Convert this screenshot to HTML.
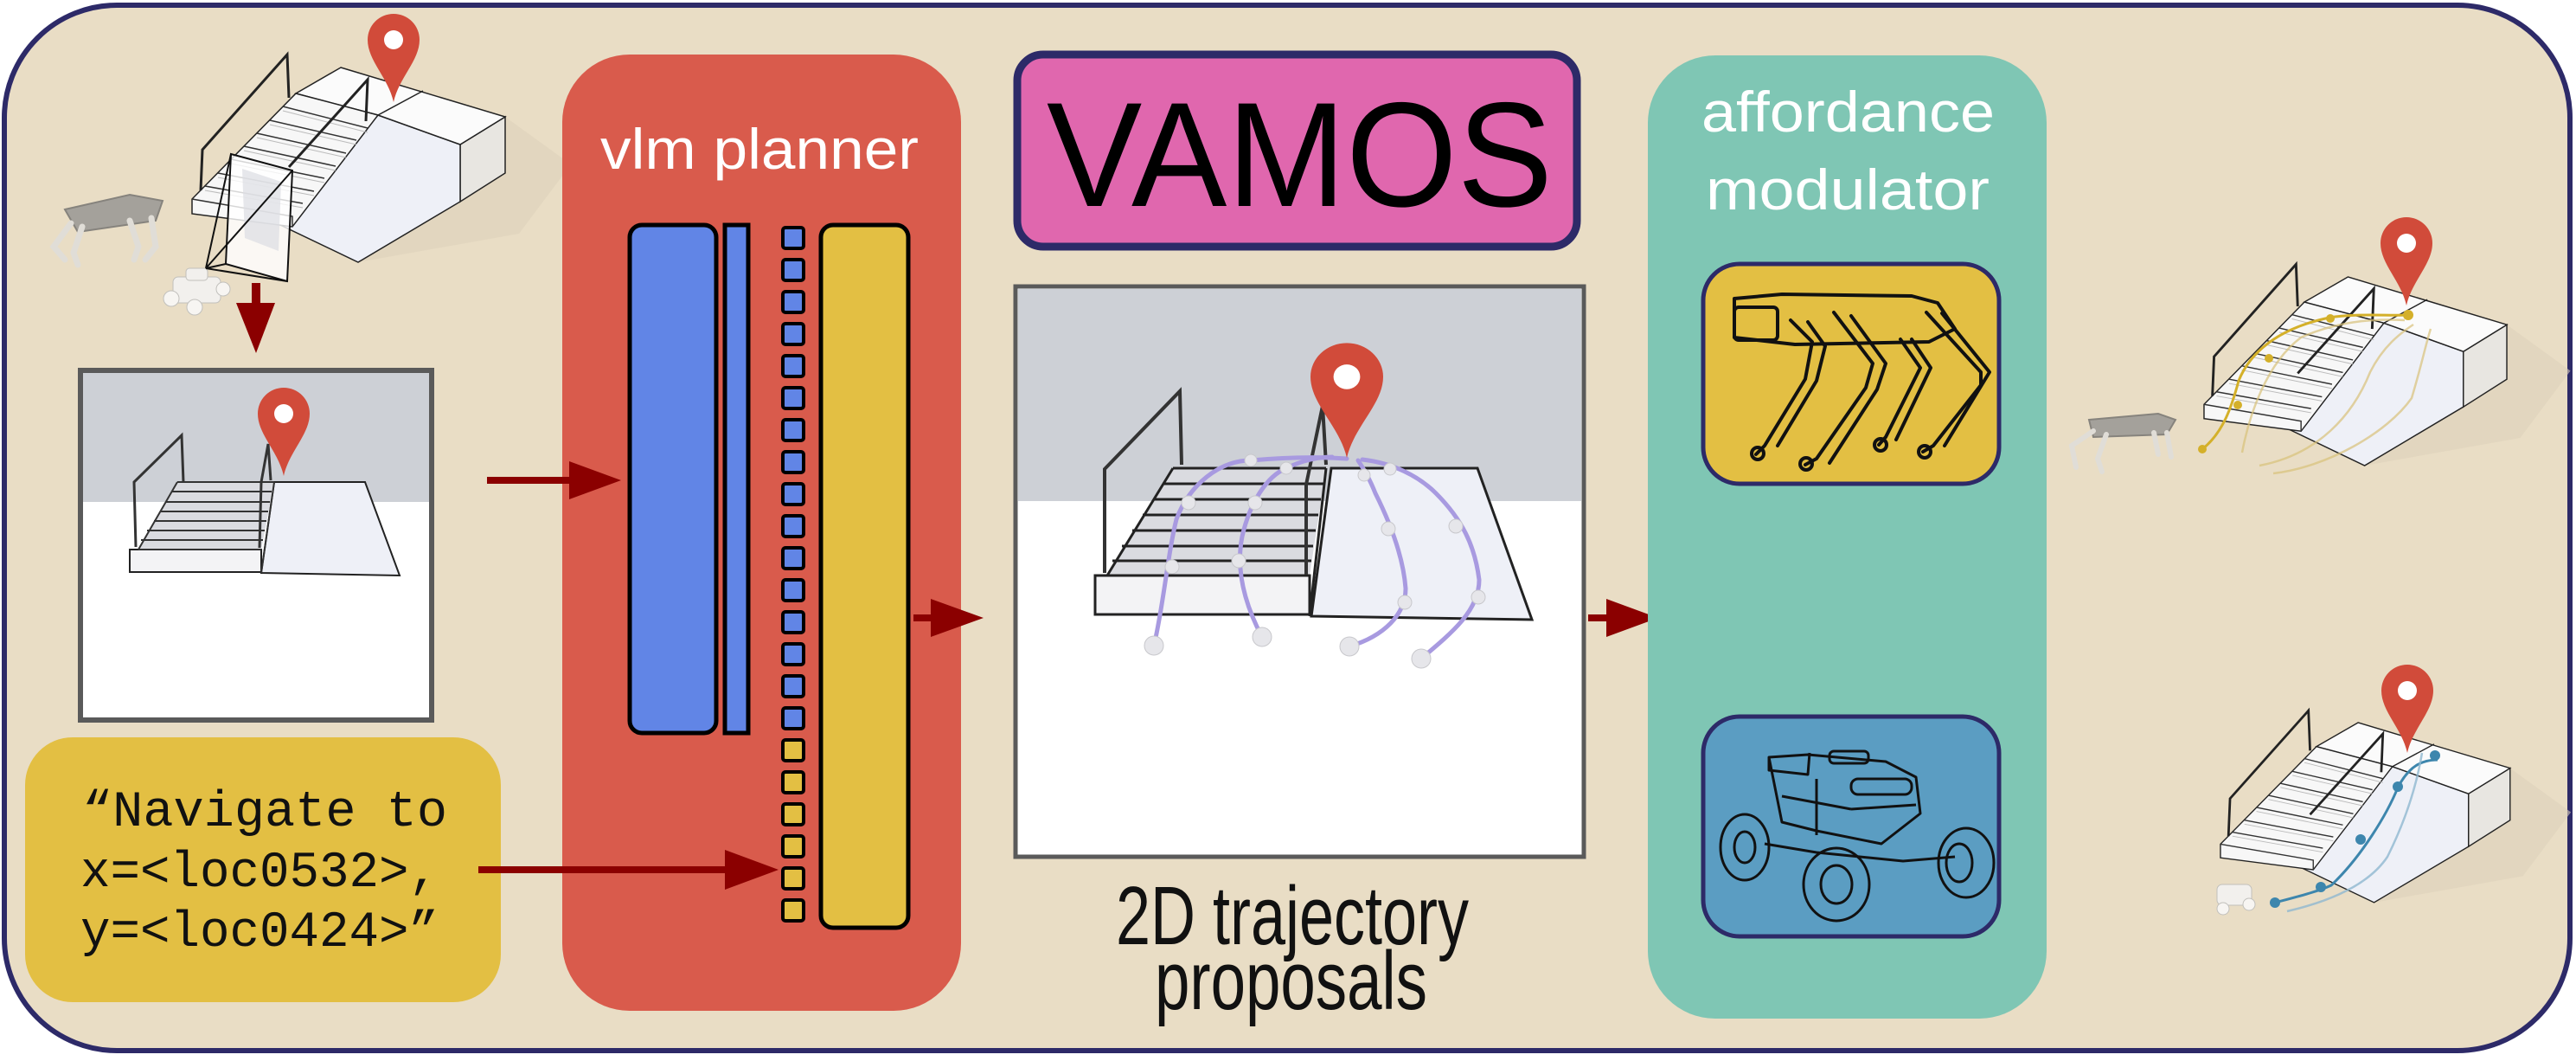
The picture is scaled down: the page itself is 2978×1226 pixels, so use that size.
<!DOCTYPE html>
<html><head><meta charset="utf-8"><style>
html,body{margin:0;padding:0;background:#fff;}
svg{display:block;}
</style></head><body>
<svg width="2978" height="1226" viewBox="0 0 2978 1226" xmlns="http://www.w3.org/2000/svg">
<defs>
  <g id="pin">
    <path d="M0,0 C-6,-28 -30,-48 -30,-72 A30,30 0 1,1 30,-72 C30,-48 6,-28 0,0Z" fill="#d14b3a"/>
    <circle cx="0" cy="-72" r="11" fill="#ffffff"/>
  </g>
  <g id="stairs">
    <polygon points="532,167 584,135 660,190 600,270 414,303" fill="#ddd2bb" opacity="0.6"/>
    <polygon points="532,167 584,135 584,200 532,233" fill="#e8e6e1" stroke="#222" stroke-width="1.5"/>
    <polygon points="437,133 532,167 532,233 414,303 320,258 338,250" fill="#eef0f7" stroke="#222" stroke-width="1.5"/>
    <polygon points="394,78 584,135 532,167 437,133 342,108" fill="#fbfbfb" stroke="#222" stroke-width="1.5"/>
    <line x1="489" y1="105" x2="437" y2="133" stroke="#222" stroke-width="1.5"/>
    <polygon points="342,108 437,133 338,262 222,247 222,230" fill="#f7f7f7" stroke="#222" stroke-width="1.5"/>
    <path d="M327,123 L425,148 M312,139 L412,162 M297,154 L400,177 M282,169 L388,192 M267,184 L375,206 M252,200 L363,221 M237,215 L350,235 M222,230 L338,250 L338,262" stroke="#333" stroke-width="1.5" fill="none"/>
    <path d="M327,128 L425,153 M312,144 L412,167 M297,159 L400,182 M282,174 L388,197 M267,189 L375,211 M252,205 L363,226 M237,220 L350,240" stroke="#bbb" stroke-width="1" fill="none"/>
    <polyline points="232,220 234,173 332,63 334,113" fill="none" stroke="#222" stroke-width="3"/>
    <polyline points="334,193 425,92 423,140" fill="none" stroke="#222" stroke-width="3"/>
  </g>
  <g id="frontstairs">
    <polygon points="317,557 422,557 462,665 302,662" fill="#eef0f7" stroke="#222" stroke-width="2"/>
    <rect x="150" y="635" width="152" height="26" fill="#f3f3f5" stroke="#222" stroke-width="2"/>
    <polygon points="205,557 317,557 302,635 160,635" fill="#dadbe0"/>
    <path d="M205,557 L317,557 M199,568 L314,568 M192,580 L312,580 M185,591 L310,591 M178,602 L308,602 M170,613 L306,613 M163,624 L304,624 M160,635 L302,635" stroke="#333" stroke-width="2" fill="none"/>
    <path d="M205,557 L160,635 M317,557 L302,662" stroke="#333" stroke-width="2"/>
    <polyline points="157,632 155,557 210,503 212,557" fill="none" stroke="#333" stroke-width="3"/>
    <polyline points="300,633 302,557 310,513 313,555" fill="none" stroke="#333" stroke-width="3"/>
  </g>
</defs>

<rect x="5" y="6" width="2966" height="1208" rx="130" ry="130" fill="#e9ddc5" stroke="#2d2a68" stroke-width="6"/>

<use href="#stairs"/>
<g opacity="0.75">
  <polygon points="75,242 150,225 188,232 180,255 90,268" fill="#8d8d8d" stroke="#666" stroke-width="2"/>
  <path d="M82,258 L62,285 L75,300 M95,262 L85,292 L90,306 M150,255 L160,285 L155,300 M175,252 L180,285 L168,300" stroke="#ddd" stroke-width="7" fill="none" stroke-linecap="round"/>
</g>
<g opacity="0.85">
  <rect x="200" y="320" width="55" height="30" rx="6" fill="#f4f4f4" stroke="#bbb"/>
  <rect x="215" y="310" width="25" height="14" rx="4" fill="#f4f4f4" stroke="#bbb"/>
  <circle cx="198" cy="345" r="9" fill="#fafafa" stroke="#bbb"/>
  <circle cx="225" cy="355" r="9" fill="#fafafa" stroke="#bbb"/>
  <circle cx="258" cy="334" r="8" fill="#fafafa" stroke="#bbb"/>
</g>
<polygon points="267,178 338,197 332,325 261,305" fill="#ffffff" fill-opacity="0.8" stroke="#111" stroke-width="2"/>
<polygon points="280,195 325,210 322,290 283,275" fill="#dcdde2" opacity="0.7"/>
<path d="M238,310 L267,178 M238,310 L338,197 M238,310 L332,325 M238,310 L261,305" stroke="#111" stroke-width="2" fill="none"/>
<use href="#pin" transform="translate(455,118)"/>
<rect x="291" y="327" width="10" height="25" fill="#8b0000"/>
<polygon points="273,350 318,350 296,408" fill="#8b0000"/>

<rect x="93" y="428" width="406" height="404" fill="#ffffff" stroke="#5a5a5a" stroke-width="6"/>
<rect x="96" y="431" width="400" height="149" fill="#cdd0d6"/>
<use href="#frontstairs"/>
<use href="#pin" transform="translate(328,550) scale(1)"/>

<rect x="29" y="852" width="550" height="306" rx="55" ry="55" fill="#e3bf43"/>
<g font-family="'Liberation Mono', monospace" font-size="58" fill="#111">
  <text x="95" y="954" textLength="422" lengthAdjust="spacingAndGlyphs">“Navigate to</text>
  <text x="93" y="1024" textLength="414" lengthAdjust="spacingAndGlyphs">x=&lt;loc0532&gt;,</text>
  <text x="93" y="1093" textLength="414" lengthAdjust="spacingAndGlyphs">y=&lt;loc0424&gt;”</text>
</g>

<rect x="650" y="63" width="461" height="1105" rx="78" ry="78" fill="#d95b4c"/>
<text x="694" y="195" textLength="368" lengthAdjust="spacingAndGlyphs" font-family="'Liberation Sans', sans-serif" font-size="66" fill="#fff">vlm planner</text>
<rect x="728" y="260" width="100" height="587" rx="14" fill="#6185e6" stroke="#000" stroke-width="5"/>
<rect x="838" y="260" width="27" height="587" fill="#6185e6" stroke="#000" stroke-width="5"/>
<rect x="949" y="260" width="101" height="812" rx="14" fill="#e3bf43" stroke="#000" stroke-width="5"/>
<g stroke="#000" stroke-width="4">
  <g fill="#6185e6">
    <rect x="905" y="263" width="24" height="24" rx="3"/>
    <rect x="905" y="300" width="24" height="24" rx="3"/>
    <rect x="905" y="337" width="24" height="24" rx="3"/>
    <rect x="905" y="374" width="24" height="24" rx="3"/>
    <rect x="905" y="411" width="24" height="24" rx="3"/>
    <rect x="905" y="448" width="24" height="24" rx="3"/>
    <rect x="905" y="485" width="24" height="24" rx="3"/>
    <rect x="905" y="522" width="24" height="24" rx="3"/>
    <rect x="905" y="559" width="24" height="24" rx="3"/>
    <rect x="905" y="596" width="24" height="24" rx="3"/>
    <rect x="905" y="633" width="24" height="24" rx="3"/>
    <rect x="905" y="670" width="24" height="24" rx="3"/>
    <rect x="905" y="707" width="24" height="24" rx="3"/>
    <rect x="905" y="744" width="24" height="24" rx="3"/>
    <rect x="905" y="781" width="24" height="24" rx="3"/>
    <rect x="905" y="818" width="24" height="24" rx="3"/>
  </g>
  <g fill="#e3bf43">
    <rect x="905" y="855" width="24" height="24" rx="3"/>
    <rect x="905" y="892" width="24" height="24" rx="3"/>
    <rect x="905" y="929" width="24" height="24" rx="3"/>
    <rect x="905" y="966" width="24" height="24" rx="3"/>
    <rect x="905" y="1003" width="24" height="24" rx="3"/>
    <rect x="905" y="1040" width="24" height="24" rx="3"/>
  </g>
</g>

<rect x="563" y="551" width="105" height="8" fill="#8b0000"/>
<polygon points="658,533 718,555 658,577" fill="#8b0000"/>
<rect x="553" y="1001" width="295" height="8" fill="#8b0000"/>
<polygon points="838,982 900,1005 838,1028" fill="#8b0000"/>
<rect x="1056" y="710" width="30" height="8" fill="#8b0000"/>
<polygon points="1076,692 1137,714 1076,736" fill="#8b0000"/>
<rect x="1836" y="710" width="30" height="8" fill="#8b0000"/>
<polygon points="1857,692 1917,714 1857,736" fill="#8b0000"/>

<rect x="1176" y="63" width="647" height="222" rx="30" ry="30" fill="#e067ae" stroke="#2d2a68" stroke-width="9"/>
<text x="1210" y="238" textLength="585" lengthAdjust="spacingAndGlyphs" font-family="'Liberation Sans', sans-serif" font-size="172" fill="#000">VAMOS</text>

<rect x="1174" y="331" width="657" height="659" fill="#ffffff" stroke="#5a5a5a" stroke-width="5"/>
<rect x="1177" y="334" width="651" height="245" fill="#cdd0d6"/>
<polygon points="1539,541 1708,541 1771,716 1516,712" fill="#eef0f7" stroke="#222" stroke-width="3"/>
<rect x="1266" y="665" width="248" height="45" fill="#f3f3f5" stroke="#222" stroke-width="3"/>
<polygon points="1356,541 1533,541 1514,665 1280,665" fill="#dadbe0"/>
<path d="M1356,541 L1533,541 M1344,559 L1530,559 M1333,577 L1527,577 M1321,595 L1524,595 M1309,613 L1521,613 M1297,631 L1518,631 M1286,648 L1516,648 M1280,665 L1514,665" stroke="#222" stroke-width="3" fill="none"/>
<path d="M1356,541 L1280,665 M1533,541 L1514,712" stroke="#222" stroke-width="3"/>
<polyline points="1277,662 1277,542 1364,452 1366,537" fill="none" stroke="#333" stroke-width="4"/>
<polyline points="1510,664 1510,560 1529,469 1533,537" fill="none" stroke="#333" stroke-width="4"/>
<g fill="none" stroke="#a89ae0" stroke-width="5" stroke-linecap="round">
  <path d="M1334,746 C1345,700 1350,640 1360,600 C1375,560 1410,532 1446,532 C1490,528 1530,528 1557,530"/>
  <path d="M1459,736 C1440,700 1428,660 1436,620 C1445,580 1465,550 1487,541 C1505,532 1525,528 1540,528"/>
  <path d="M1560,747 C1600,735 1625,710 1625,680 C1622,640 1605,600 1590,570 C1582,550 1575,540 1570,532"/>
  <path d="M1643,761 C1680,730 1710,705 1710,670 C1705,630 1690,600 1660,570 C1640,550 1610,535 1575,531"/>
</g>
<g fill="#e6e6ea" stroke="#c8c8cc" stroke-width="1">
  <circle cx="1334" cy="746" r="11"/><circle cx="1459" cy="736" r="11"/><circle cx="1560" cy="747" r="11"/><circle cx="1643" cy="761" r="11"/>
  <circle cx="1355" cy="655" r="8"/><circle cx="1374" cy="581" r="8"/><circle cx="1446" cy="532" r="7"/>
  <circle cx="1432" cy="648" r="8"/><circle cx="1451" cy="581" r="8"/><circle cx="1487" cy="541" r="7"/>
  <circle cx="1624" cy="696" r="8"/><circle cx="1605" cy="611" r="8"/><circle cx="1577" cy="549" r="7"/>
  <circle cx="1709" cy="690" r="8"/><circle cx="1683" cy="608" r="8"/><circle cx="1607" cy="542" r="7"/>
</g>
<use href="#pin" transform="translate(1557,529) scale(1.4,1.3)"/>
<text x="1290" y="1091" textLength="408" lengthAdjust="spacingAndGlyphs" font-family="'Liberation Sans', sans-serif" font-size="96" fill="#111">2D trajectory</text>
<text x="1335" y="1166" textLength="315" lengthAdjust="spacingAndGlyphs" font-family="'Liberation Sans', sans-serif" font-size="96" fill="#111">proposals</text>

<rect x="1905" y="64" width="461" height="1113" rx="78" ry="78" fill="#7fc6b4"/>
<text x="1967" y="152" textLength="339" lengthAdjust="spacingAndGlyphs" font-family="'Liberation Sans', sans-serif" font-size="66" fill="#fff">affordance</text>
<text x="1972" y="242" textLength="328" lengthAdjust="spacingAndGlyphs" font-family="'Liberation Sans', sans-serif" font-size="66" fill="#fff">modulator</text>

<rect x="1969" y="305" width="342" height="254" rx="42" ry="42" fill="#e3bf43" stroke="#2d2a68" stroke-width="5"/>
<g fill="none" stroke="#111" stroke-width="4" stroke-linejoin="round" stroke-linecap="round">
  <path d="M2005,345 L2060,340 L2210,342 L2240,350 L2260,380 L2230,395 L2075,398 L2005,390 Z"/>
  <rect x="2005" y="355" width="50" height="38" rx="5"/>
  <path d="M2070,370 L2095,395 L2087,438 L2040,515 L2030,525"/>
  <path d="M2090,372 L2110,400 L2100,440 L2055,515"/>
  <path d="M2120,361 L2165,420 L2157,448 L2100,530 L2087,537"/>
  <path d="M2140,365 L2180,420 L2170,450 L2115,535"/>
  <path d="M2197,392 L2220,425 L2180,505 L2172,514"/>
  <path d="M2210,392 L2232,425 L2192,508"/>
  <path d="M2227,361 L2290,430 L2290,445 L2235,515 L2223,522"/>
  <path d="M2245,362 L2300,430 L2248,515"/>
  <circle cx="2032" cy="524" r="7"/><circle cx="2088" cy="536" r="7"/><circle cx="2174" cy="514" r="7"/><circle cx="2225" cy="522" r="7"/>
</g>

<rect x="1969" y="828" width="342" height="254" rx="42" ry="42" fill="#5b9dc2" stroke="#2d2a68" stroke-width="5"/>
<g fill="none" stroke="#111" stroke-width="3" stroke-linejoin="round">
  <path d="M2045,875 L2090,872 L2180,880 L2215,898 L2220,940 L2175,975 L2100,960 L2060,950 Z"/>
  <path d="M2045,875 L2045,890 L2090,895 L2092,870"/>
  <rect x="2115" y="868" width="45" height="14" rx="5"/>
  <rect x="2140" y="900" width="70" height="18" rx="8"/>
  <path d="M2100,900 L2100,965 M2060,920 L2140,935 M2140,935 L2215,930"/>
  <path d="M2040,975 L2100,985 L2200,995 L2260,990"/>
  <ellipse cx="2017" cy="979" rx="28" ry="38"/>
  <ellipse cx="2017" cy="979" rx="12" ry="18"/>
  <ellipse cx="2123" cy="1022" rx="38" ry="42"/>
  <ellipse cx="2123" cy="1022" rx="18" ry="22"/>
  <ellipse cx="2273" cy="997" rx="32" ry="40"/>
  <ellipse cx="2265" cy="997" rx="15" ry="22"/>
</g>

<use href="#stairs" transform="translate(2333.3,244.4) scale(0.967,0.969)"/>
<g opacity="0.75">
  <polygon points="2415,485 2495,478 2515,485 2505,502 2420,505" fill="#8d8d8d" stroke="#666" stroke-width="2"/>
  <path d="M2420,498 L2395,515 L2400,540 M2435,502 L2425,530 L2430,545 M2490,500 L2495,525 M2505,500 L2510,528" stroke="#ddd" stroke-width="6" fill="none" stroke-linecap="round"/>
</g>
<g fill="none" stroke="#d4b02a" stroke-width="3">
  <path d="M2546,519 C2570,500 2580,470 2588,440 C2600,410 2630,380 2693,367 C2720,362 2760,365 2784,364"/>
</g>
<g fill="none" stroke="#d9c27a" stroke-width="2.5" opacity="0.7">
  <path d="M2592,523 C2600,480 2620,420 2660,390 C2700,372 2740,368 2780,370"/>
  <path d="M2612,538 C2680,525 2720,480 2740,430 C2755,400 2775,385 2790,375"/>
  <path d="M2628,547 C2690,540 2760,500 2788,460 C2800,420 2805,395 2810,380"/>
</g>
<g fill="#d4b02a">
  <circle cx="2546" cy="519" r="5"/><circle cx="2587" cy="468" r="5"/><circle cx="2623" cy="414" r="5"/><circle cx="2694" cy="368" r="5"/><circle cx="2784" cy="364" r="6"/>
</g>
<use href="#pin" transform="translate(2782,353)"/>

<use href="#stairs" transform="translate(2361.6,762.9) scale(0.925,0.924)"/>
<g fill="none" stroke="#3d86ad" stroke-width="3">
  <path d="M2630,1043 C2660,1035 2680,1030 2695,1023 C2730,990 2760,940 2772,910 C2785,885 2800,878 2818,878"/>
</g>
<g fill="none" stroke="#8fb8cf" stroke-width="2.5" opacity="0.8">
  <path d="M2644,1053 C2700,1040 2740,1020 2760,990 C2785,940 2795,900 2800,870"/>
</g>
<g fill="#3d86ad">
  <circle cx="2630" cy="1043" r="6"/><circle cx="2683" cy="1025" r="6"/><circle cx="2729" cy="970" r="6"/><circle cx="2772" cy="909" r="6"/><circle cx="2815" cy="873" r="6"/>
</g>
<g opacity="0.85">
  <rect x="2563" y="1022" width="40" height="24" rx="6" fill="#f4f4f4" stroke="#bbb"/>
  <circle cx="2570" cy="1050" r="7" fill="#fafafa" stroke="#bbb"/>
  <circle cx="2600" cy="1045" r="7" fill="#fafafa" stroke="#bbb"/>
</g>
<use href="#pin" transform="translate(2783,870)"/>
</svg>
</body></html>
